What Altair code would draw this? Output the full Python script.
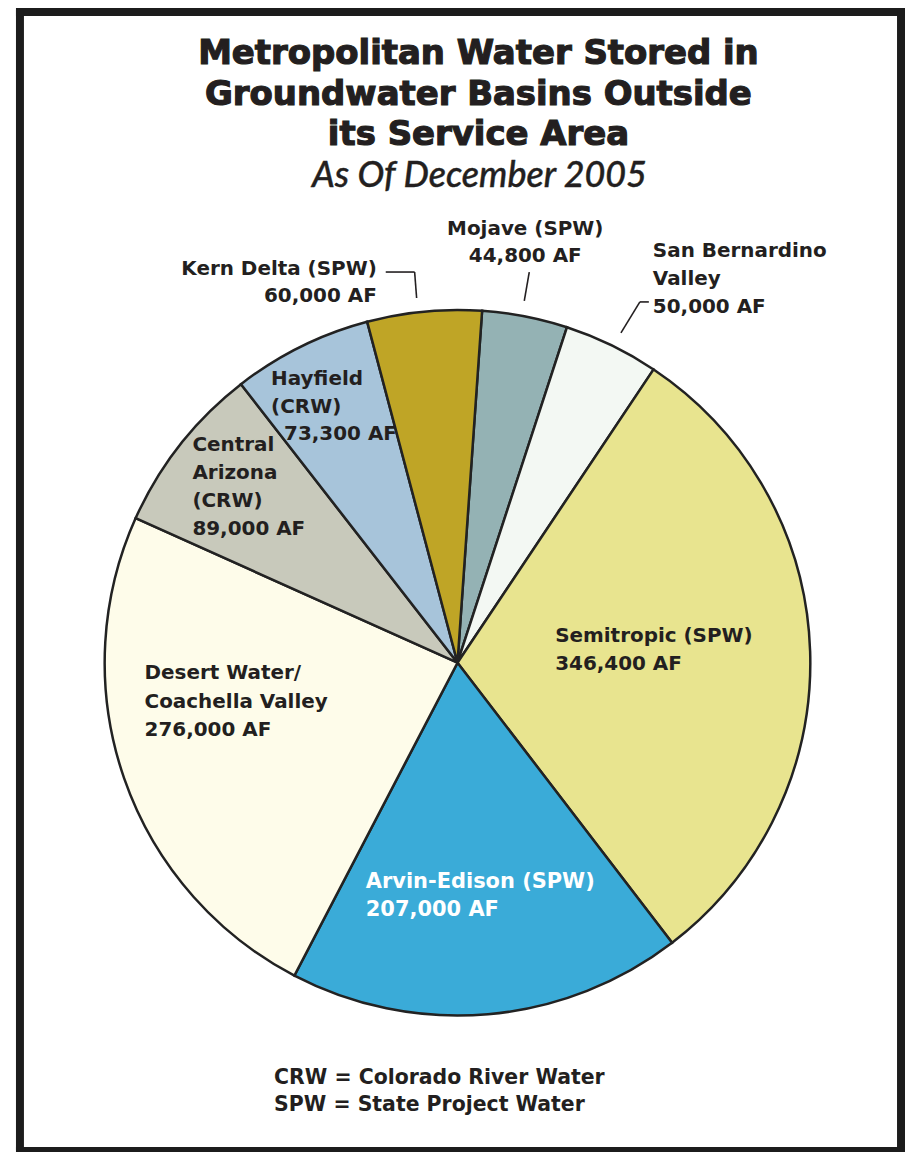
import math
import altair as alt
import pandas as pd

# ---------------- data ----------------
names = ["Mojave (SPW)", "San Bernardino Valley", "Semitropic (SPW)", "Arvin-Edison (SPW)",
         "Desert Water/Coachella Valley", "Central Arizona (CRW)", "Hayfield (CRW)", "Kern Delta (SPW)"]
values = [44800, 50000, 346400, 207000, 276000, 89000, 73300, 60000]
colors = ["#94b2b4", "#f3f8f3", "#e8e48f", "#3aabd8", "#fefcea", "#c8c9bb", "#a7c4da", "#bfa526"]

title_lines = ["Metropolitan Water Stored in", "Groundwater Basins Outside", "its Service Area"]
subtitle = "As Of December 2005"
footnotes = ["CRW = Colorado River Water", "SPW = State Project Water"]

kern_lines = ["Kern Delta (SPW)", "60,000 AF"]
mojave_lines = ["Mojave (SPW)", "44,800 AF"]
sanb_lines = ["San Bernardino", "Valley", "50,000 AF"]
hay_lines = ["Hayfield", "(CRW)", "73,300 AF"]
central_lines = ["Central", "Arizona", "(CRW)", "89,000 AF"]
semi_lines = ["Semitropic (SPW)", "346,400 AF"]
desert_lines = ["Desert Water/", "Coachella Valley", "276,000 AF"]
arvin_lines = ["Arvin-Edison (SPW)", "207,000 AF"]

# ---------------- layout (pixels in the chart area) ----------------
W, H = 900, 1144
CX, CY, R = 451, 655, 354
START = math.radians(4.0)
LABEL_FONT = "DejaVu Sans"
INK = "#231f20"

pie_df = pd.DataFrame({"name": names, "value": values, "idx": list(range(len(names)))})

pie = alt.Chart(pie_df).mark_arc(radius=R, stroke="#222222", strokeWidth=2.5).encode(
    theta=alt.Theta("value:Q", stack=True, scale=alt.Scale(range=[START, START + 2 * math.pi])),
    order=alt.Order("idx:Q"),
    color=alt.Color("name:N", scale=alt.Scale(domain=names, range=colors), legend=None),
    x=alt.value(CX), y=alt.value(CY),
)


def text_layer(lines, xs, ys, align="left", size=20, weight="bold", color=INK,
               style="normal", font=LABEL_FONT, stroke_w=0):
    df = pd.DataFrame({"t": lines, "x": xs, "y": ys})
    kw = dict(align=align, baseline="alphabetic", fontSize=size, fontWeight=weight,
              font=font, color=color, fontStyle=style)
    if stroke_w > 0:
        kw.update(stroke=color, strokeWidth=stroke_w)
    return alt.Chart(df).mark_text(**kw).encode(
        x=alt.X("x:Q", scale=None), y=alt.Y("y:Q", scale=None), text="t:N")


title = text_layer(title_lines, [472] * 3, [54, 95, 136], align="center", size=34,
                   weight="bold", stroke_w=1.2)
sub = text_layer([subtitle], [473], [178], align="center", size=36, weight=500,
                 style="italic", font="Lato", stroke_w=0.4)

kern = text_layer(kern_lines, [370, 370], [266, 293], align="right")
mojave = text_layer(mojave_lines, [519, 519], [226, 253], align="center")
sanb = text_layer(sanb_lines, [647] * 3, [248, 276, 304])
hay = text_layer(hay_lines, [264, 264, 277], [376, 404, 432])
central = text_layer(central_lines, [185] * 4, [443, 471, 499, 527])
semi = text_layer(semi_lines, [549, 549], [634, 662])
desert = text_layer(desert_lines, [137] * 3, [671, 700, 729])
arvin = text_layer(arvin_lines, [359, 359], [881, 909], color="white", size=21)
foot = text_layer(footnotes, [267, 267], [1078, 1105], size=20.5)

seg_df = pd.DataFrame({
    "x":  [379, 408, 523, 643, 634],
    "y":  [263, 263, 263, 293, 293],
    "x2": [408, 410, 518, 634, 615],
    "y2": [263, 289, 292, 293, 324],
})
leaders = alt.Chart(seg_df).mark_rule(color=INK, strokeWidth=1.6).encode(
    x=alt.X("x:Q", scale=None), y=alt.Y("y:Q", scale=None),
    x2="x2:Q", y2="y2:Q",
)

frame_df = pd.DataFrame({
    "x":  [8, 12, 896, 8],
    "y":  [2, 0, 0, H + 1],
    "x2": [900, 12, 896, 900],
    "y2": [2, H, H, H + 1],
})
frame = alt.Chart(frame_df).mark_rule(color="#1c1c1c", strokeWidth=8).encode(
    x=alt.X("x:Q", scale=None), y=alt.Y("y:Q", scale=None),
    x2="x2:Q", y2="y2:Q",
)

chart = alt.layer(
    frame, pie, leaders, title, sub, kern, mojave, sanb, hay, central, semi, desert, arvin, foot
).properties(
    width=W, height=H, autosize=alt.AutoSizeParams(type="none"), padding=0
).configure_view(strokeWidth=0)

chart.save("out.html", embed_options={"renderer": "svg", "actions": False})
